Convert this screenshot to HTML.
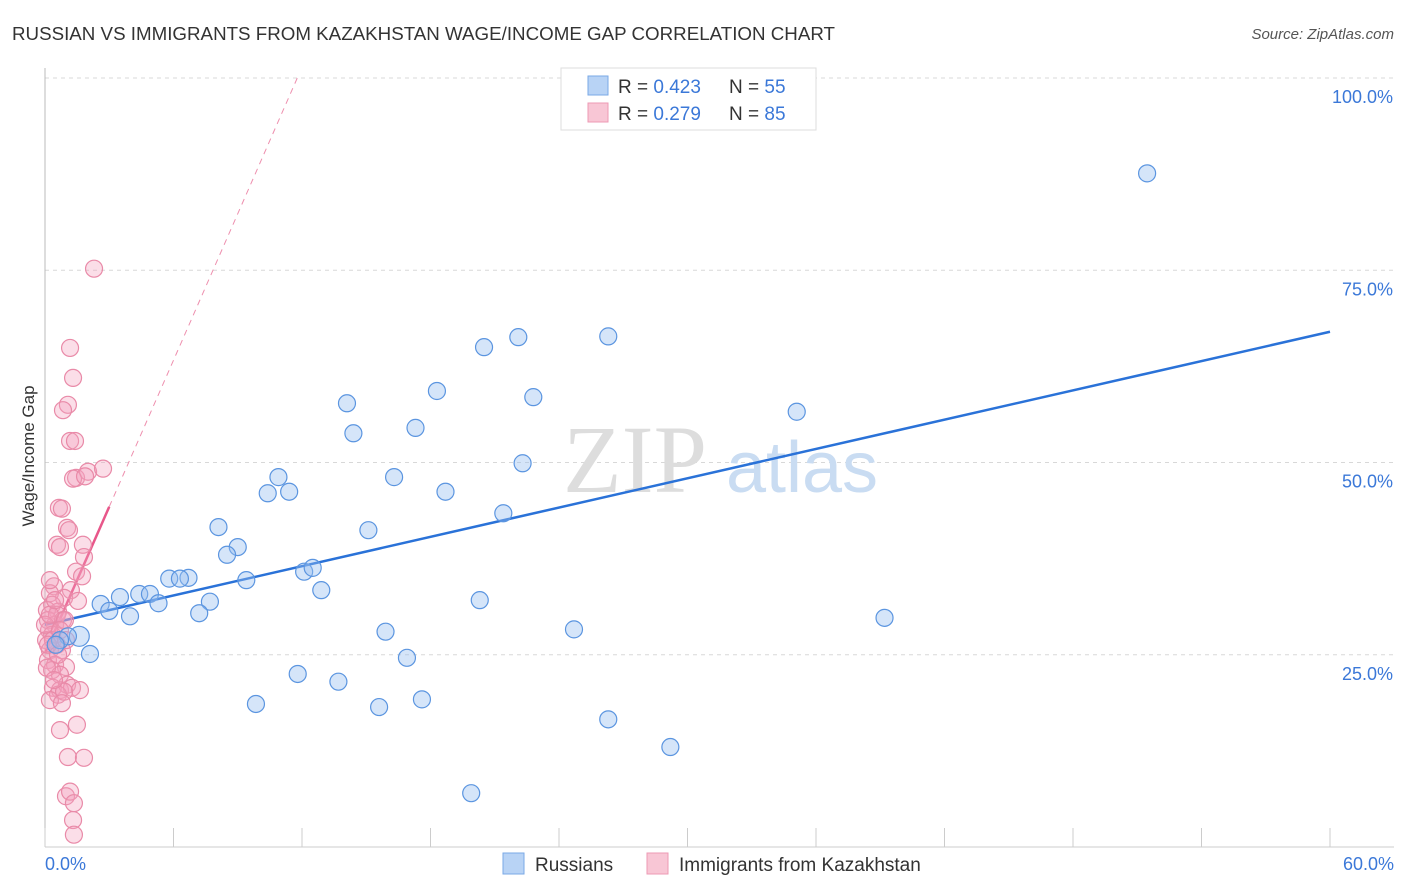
<!DOCTYPE html>
<html><head><meta charset="utf-8"><style>
body{margin:0;background:#fff;font-family:"Liberation Sans",sans-serif;}
svg{display:block}
</style></head><body>
<svg id="chart" width="1406" height="892">
<text x="12" y="40" font-size="18" fill="#333" textLength="823" lengthAdjust="spacingAndGlyphs">RUSSIAN VS IMMIGRANTS FROM KAZAKHSTAN WAGE/INCOME GAP CORRELATION CHART</text>
<text x="1394" y="39" font-size="15" fill="#555" font-style="italic" text-anchor="end">Source: ZipAtlas.com</text>
<g id="grid"></g>
<g><text x="635" y="492" font-size="96" font-family="Liberation Serif,serif" fill="#ddd" text-anchor="middle">ZIP</text><text x="802" y="492" font-size="72" fill="#c9dcf2" text-anchor="middle">atlas</text></g>
<line x1="45" y1="68" x2="45" y2="847" stroke="#bbb"/>
<line x1="45" y1="847" x2="1394" y2="847" stroke="#ccc"/>
<g id="ticks"></g>
<g id="lines"></g>
<g id="pts"></g>
<text x="34" y="456" font-size="17" fill="#333" text-anchor="middle" transform="rotate(-90 34 456)">Wage/Income Gap</text>
<text x="45" y="870" font-size="18" fill="#3b78d8">0.0%</text>
<text x="1394" y="870" font-size="18" fill="#3b78d8" text-anchor="end">60.0%</text>
<g>
<rect x="561" y="68" width="255" height="62" fill="#fff" stroke="#ddd"/>
<rect x="588" y="76" width="20" height="19" fill="#b8d3f5" stroke="#7aa8e6"/>
<rect x="588" y="103" width="20" height="19" fill="#f8c6d5" stroke="#ee9ab4"/>
<text x="618" y="93" font-size="19" fill="#333">R = <tspan fill="#3b78d8">0.423</tspan><tspan x="729">N = </tspan><tspan fill="#3b78d8">55</tspan></text>
<text x="618" y="120" font-size="19" fill="#333">R = <tspan fill="#3b78d8">0.279</tspan><tspan x="729">N = </tspan><tspan fill="#3b78d8">85</tspan></text>
</g>
<g>
<rect x="503" y="853" width="21" height="21" fill="#b8d3f5" stroke="#7aa8e6"/>
<text x="535" y="871" font-size="19" fill="#333">Russians</text>
<rect x="647" y="853" width="21" height="21" fill="#f8c6d5" stroke="#ee9ab4"/>
<text x="679" y="871" font-size="19" fill="#333">Immigrants from Kazakhstan</text>
</g>
</svg>
<script>
const yTicks=[25,50,75,100];
const yTickLabels=["25.0%","50.0%","75.0%","100.0%"];
const xTicks=[0,6,12,18,24,30,36,42,48,54,60];
const blueX=[51.46,20.5,22.1,26.3,18.3,22.8,14.1,35.1,17.3,14.4,22.3,16.3,10.9,10.4,11.4,18.7,21.4,8.1,15.1,9.0,8.5,12.1,12.5,6.7,5.8,6.3,9.4,12.9,3.5,4.4,4.9,5.3,7.7,2.6,3.0,3.97,7.2,20.3,39.2,15.9,24.7,1.6,1.07,0.7,2.1,16.9,11.8,13.7,9.85,15.6,17.6,26.3,29.2,19.9,0.5];
const blueY=[87.6,65.0,66.3,66.4,59.3,58.5,57.7,56.6,54.5,53.8,49.9,48.1,48.1,46.0,46.2,46.2,43.4,41.6,41.2,39.0,38.0,35.8,36.3,35.0,34.9,34.9,34.7,33.4,32.5,32.9,32.9,31.7,31.9,31.6,30.7,30.0,30.4,32.1,29.8,28.0,28.3,27.4,27.4,26.9,25.1,24.6,22.5,21.5,18.6,18.2,19.2,16.6,13.0,7.0,26.3];
const pinkX=[2.29,1.17,1.31,1.07,0.84,1.17,1.40,1.45,1.31,2.01,2.71,1.87,0.65,0.79,1.03,1.12,0.56,0.70,1.77,1.82,1.45,1.73,1.21,0.89,1.54,0.42,0.23,0.33,0.61,0.09,0.14,0.47,0.19,0.33,0.05,0.37,0.56,0.23,0.79,0.14,0.47,0.98,0.33,0.70,0.37,0.70,1.03,1.26,1.63,0.61,0.89,0.23,0.70,1.49,1.07,1.82,0.98,1.17,1.35,1.31,1.35,0.09,0.56,0.84,0.0,0.23,0.47,0.93,0.23,0.70,0.14,0.61,0.98,0.42,0.79];
const pinkY=[75.2,64.9,61.0,57.5,56.8,52.8,52.8,48.0,47.9,48.8,49.2,48.2,44.1,44.0,41.5,41.2,39.3,39.0,39.3,37.7,35.8,35.2,33.4,32.4,32.0,33.9,33.0,31.5,30.6,30.8,29.5,28.9,28.2,27.6,26.9,26.9,26.3,25.6,25.6,24.3,23.7,23.4,23.0,22.4,20.7,20.4,21.1,20.7,20.4,19.8,20.2,19.1,15.2,15.9,11.7,11.6,6.6,7.2,5.7,3.5,1.6,23.3,30.2,29.5,28.9,30.2,32.1,29.5,34.7,28.2,26.3,25.0,26.9,21.7,18.7];
const blueTrend=[28.9,67.0];
const pinkTrend=[25.2,6.35];
const NS='http://www.w3.org/2000/svg';
const X=v=>45+v/60*1285, Y=v=>847-v/100*769;
function mk(tag,attrs,parent){const e=document.createElementNS(NS,tag);for(const k in attrs)e.setAttribute(k,attrs[k]);document.getElementById(parent).appendChild(e);return e;}
yTicks.forEach((t,i)=>{
 const l=mk('line',{x1:45,x2:1394,y1:Y(t),y2:Y(t),stroke:'#d8d8d8','stroke-dasharray':'4,4'},'grid');
 
 
 const tx=mk('text',{x:1393,y:Y(t)+25,'font-size':18,fill:'#3b78d8','text-anchor':'end'},'grid');
 tx.textContent=yTickLabels[i];
 
 
});
xTicks.forEach(t=>{
 const l=mk('line',{x1:X(t),x2:X(t),y1:828,y2:847,stroke:'#ccc'},'ticks');
 
 
});
const bl=mk('line',{x1:X(0),y1:Y(blueTrend[0]),x2:X(60),y2:Y(blueTrend[1]),stroke:'#2a72d8','stroke-width':2.5},'lines');


const pd=mk('line',{x1:X(3),y1:Y(pinkTrend[0]+pinkTrend[1]*3),x2:X((100-pinkTrend[0])/pinkTrend[1]),y2:Y(100),stroke:'#ee8fae','stroke-width':1,'stroke-dasharray':'6,5'},'lines');


const ps=mk('line',{x1:X(0),y1:Y(pinkTrend[0]),x2:X(3),y2:Y(pinkTrend[0]+pinkTrend[1]*3),stroke:'#e8578a','stroke-width':2.5},'lines');


pinkX.forEach((x,i)=>{
 const c=mk('circle',{cx:X(x),cy:Y(pinkY[i]),r:8.5,fill:'rgba(244,160,188,0.35)',stroke:'#e98aa8','stroke-width':1.2},'pts');
 
 
});
blueX.forEach((x,i)=>{
 const c=mk('circle',{cx:X(x),cy:Y(blueY[i]),r:(i==41?10:8.5),fill:'rgba(150,190,240,0.4)',stroke:'#5b95e0','stroke-width':1.2},'pts');
 
 
});
</script>
</body></html>
